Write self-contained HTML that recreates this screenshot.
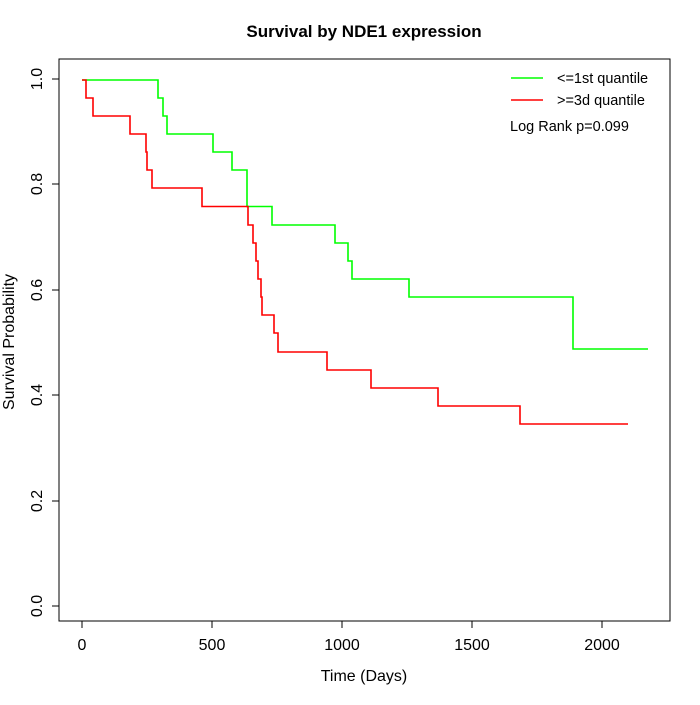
<!DOCTYPE html>
<html><head><style>body{margin:0;background:#fff}</style></head><body>
<svg width="700" height="700" xmlns="http://www.w3.org/2000/svg" font-family="Liberation Sans, sans-serif">
<rect width="700" height="700" fill="#fff"/>
<text x="364" y="37" text-anchor="middle" font-size="17" font-weight="bold">Survival by NDE1 expression</text>
<rect x="59" y="59" width="611" height="562" fill="none" stroke="#000"/>
<g stroke="#000">
<line x1="82" y1="621" x2="602" y2="621"/>
<line x1="82" y1="621" x2="82" y2="628"/><line x1="212" y1="621" x2="212" y2="628"/><line x1="342" y1="621" x2="342" y2="628"/><line x1="472" y1="621" x2="472" y2="628"/><line x1="602" y1="621" x2="602" y2="628"/>
<line x1="59" y1="79" x2="59" y2="606"/>
<line x1="52" y1="606" x2="59" y2="606"/><line x1="52" y1="501" x2="59" y2="501"/><line x1="52" y1="395" x2="59" y2="395"/><line x1="52" y1="290" x2="59" y2="290"/><line x1="52" y1="184" x2="59" y2="184"/><line x1="52" y1="79" x2="59" y2="79"/>
</g>
<g font-size="16" text-anchor="middle">
<text x="82" y="650">0</text><text x="212" y="650">500</text><text x="342" y="650">1000</text><text x="472" y="650">1500</text><text x="602" y="650">2000</text>
<text x="364" y="681">Time (Days)</text>
</g>
<g font-size="16" text-anchor="middle">
<text transform="translate(42,606) rotate(-90)">0.0</text>
<text transform="translate(42,501) rotate(-90)">0.2</text>
<text transform="translate(42,395) rotate(-90)">0.4</text>
<text transform="translate(42,290) rotate(-90)">0.6</text>
<text transform="translate(42,184) rotate(-90)">0.8</text>
<text transform="translate(42,79) rotate(-90)">1.0</text>
<text transform="translate(14,342) rotate(-90)">Survival Probability</text>
</g>
<polyline fill="none" stroke="#00ff00" stroke-width="1.6" points="82,80 158,80 158,98 163,98 163,116 167,116 167,134 213,134 213,152 232,152 232,170 247,170 247,206.5 272,206.5 272,225 335,225 335,243 348,243 348,261 352,261 352,279 409,279 409,297 573,297 573,349 648,349"/>
<polyline fill="none" stroke="#ff0000" stroke-width="1.6" points="82,80 86,80 86,98 93,98 93,116 130,116 130,134 146,134 146,152 147,152 147,170 152,170 152,188 202,188 202,206.5 248,206.5 248,225 253,225 253,243 256,243 256,261 258,261 258,279 261,279 261,297 262,297 262,315 274,315 274,333 278,333 278,352 327,352 327,370 371,370 371,388 438,388 438,406 520,406 520,424 628,424"/>
<line x1="511" y1="78" x2="543" y2="78" stroke="#00ff00" stroke-width="1.6"/>
<line x1="511" y1="100" x2="543" y2="100" stroke="#ff0000" stroke-width="1.6"/>
<g font-size="14.5">
<text x="557" y="83">&lt;=1st quantile</text>
<text x="557" y="105">&gt;=3d quantile</text>
<text x="510" y="131">Log Rank p=0.099</text>
</g>
</svg>
</body></html>
